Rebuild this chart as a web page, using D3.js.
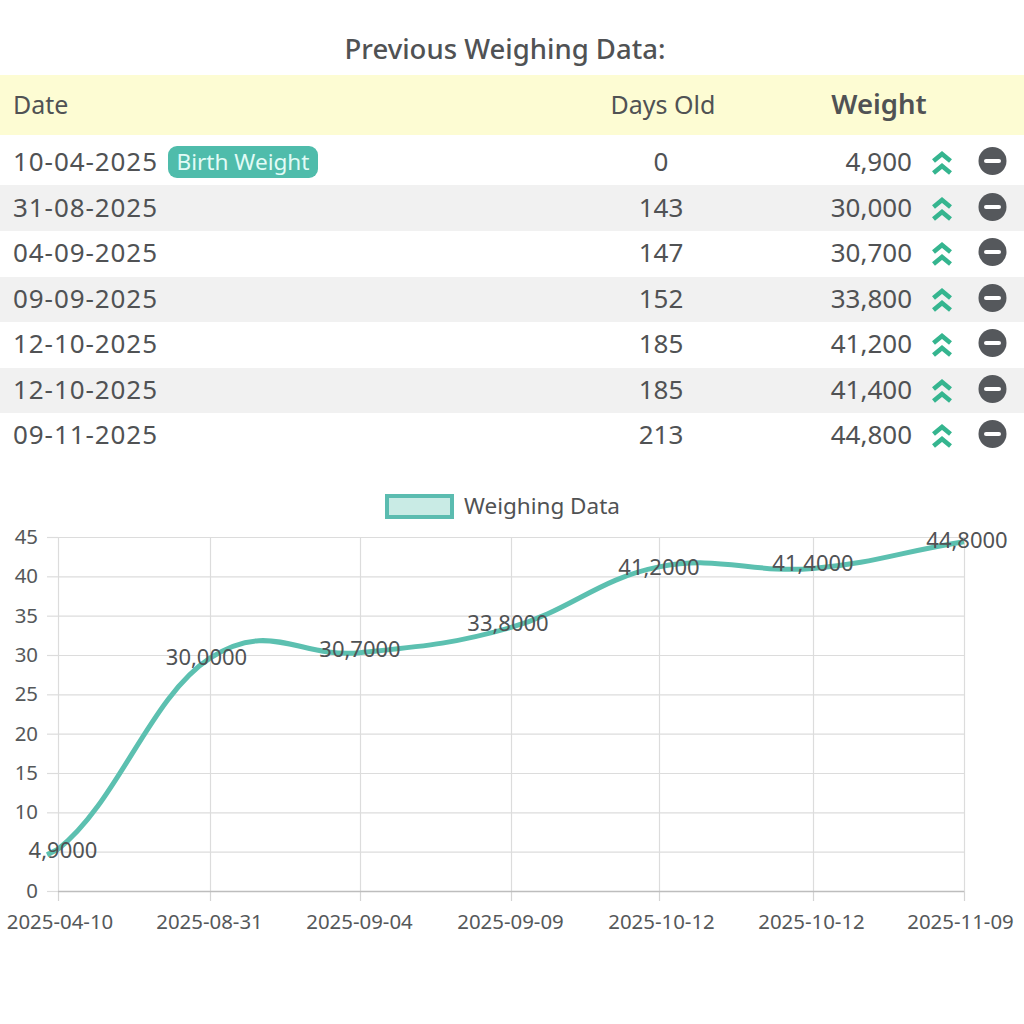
<!DOCTYPE html>
<html><head><meta charset="utf-8">
<script src="https://cdn.jsdelivr.net/npm/d3@7"></script>
<style>
html,body{margin:0;padding:0;background:#fff}
svg{display:block}
text{font-family:"Noto Sans","Open Sans",sans-serif;fill:#505254}
</style></head><body><svg id="c" width="1024" height="1024"></svg>
<script>
const tableDates=["10-04-2025","31-08-2025","04-09-2025","09-09-2025","12-10-2025","12-10-2025","09-11-2025"];
const daysOld=[0,143,147,152,185,185,213];
const weightLabels=["4,900","30,000","30,700","33,800","41,200","41,400","44,800"];
const chartDates=["2025-04-10","2025-08-31","2025-09-04","2025-09-09","2025-10-12","2025-10-12","2025-11-09"];
const chartValues=[5.3,29.6,30.3,33.5,41.2,41.0,44.4];
const leadValue=-1, trailValue=47, stubValue=4.6;
const pointLabels=["4,9000","30,0000","30,7000","33,8000","41,2000","41,4000","44,8000"];
const yTicks=[0,5,10,15,20,25,30,35,40,45];

const svg=d3.select("#c");
const teal="#5cc0b0";
const rowTops=[135,185,231,277,322,368,413,458];
svg.append("text").attr("x",505).attr("y",59).attr("text-anchor","middle")
  .attr("font-size",27.5).attr("font-weight",500).text("Previous Weighing Data:");
svg.append("rect").attr("x",0).attr("y",75).attr("width",1024).attr("height",60).attr("fill","#fdfcd3");
svg.append("text").attr("x",13).attr("y",114).attr("font-size",25).text("Date");
svg.append("text").attr("x",663).attr("y",114).attr("text-anchor","middle").attr("font-size",25).text("Days Old");
svg.append("text").attr("x",879).attr("y",114).attr("text-anchor","middle").attr("font-size",27.5).attr("font-weight",600).text("Weight");

const rows=svg.append("g").selectAll("g").data(tableDates).join("g");
rows.append("rect").attr("x",0).attr("width",1024)
  .attr("y",(d,i)=>rowTops[i]).attr("height",(d,i)=>rowTops[i+1]-rowTops[i])
  .attr("fill",(d,i)=>i%2?"#f1f1f1":"#fff");
const rowY=i=>[162,208,253,299,344,390,435][i];
rows.append("text").attr("x",13).attr("y",(d,i)=>rowY(i)+9).attr("font-size",26).attr("textLength",144).text(d=>d);
rows.append("text").attr("x",661).attr("y",(d,i)=>rowY(i)+9).attr("font-size",26).attr("text-anchor","middle").text((d,i)=>daysOld[i]);
rows.append("text").attr("x",912).attr("y",(d,i)=>rowY(i)+9).attr("font-size",26).attr("text-anchor","end").text((d,i)=>weightLabels[i]);
rows.append("path").attr("transform",(d,i)=>`translate(942,${rowY(i)+2})`)
  .attr("d","M-8.5,-3 L0,-10 L8.5,-3 M-8.5,9 L0,2 L8.5,9")
  .attr("fill","none").attr("stroke","#35b58f").attr("stroke-width",4.6);
const minus=rows.append("g").attr("transform",(d,i)=>`translate(992.5,${rowY(i)-1})`);
minus.append("circle").attr("r",14).attr("fill","#55585c");
minus.append("rect").attr("x",-8.5).attr("y",-2).attr("width",17).attr("height",4).attr("rx",2).attr("fill","#fff");

svg.append("rect").attr("x",168).attr("y",146).attr("width",150).attr("height",32).attr("rx",9).attr("fill","#4fbcab");
svg.append("text").attr("x",243).attr("y",170).attr("text-anchor","middle").attr("font-size",22.6).style("fill","#e2fbf6").text("Birth Weight");

// legend
svg.append("rect").attr("x",387).attr("y",496).attr("width",65).attr("height",21).attr("fill","#c9ebe5").attr("stroke","#5bbcb0").attr("stroke-width",4);
svg.append("text").attr("x",464).attr("y",514).attr("font-size",22.5).text("Weighing Data");

// chart
const x=d3.scaleLinear().domain(d3.range(chartDates.length)).range([58,210,360,511,659,813,964]);
const y=d3.scaleLinear().domain([0,45]).range([891,537]);
const gx=svg.append("g").attr("transform","translate(0,891)")
  .call(d3.axisBottom(x).tickValues(d3.range(chartDates.length)).tickSize(10).tickFormat(i=>chartDates[i]));
gx.select(".domain").remove();
gx.selectAll("line").attr("stroke","#d4d4d4").attr("stroke-width",1.2);
gx.selectAll(".tick").append("line").attr("y1",-354).attr("y2",0).attr("stroke","#dcdcdc").attr("stroke-width",1.2);
const tickDx=[1.5,-1,-1,-1,2,-2,-4];
gx.selectAll("text").attr("font-size",20.4).style("fill","#55585a").attr("dy","0.32em").attr("y",31).attr("dx",(d,i)=>tickDx[i]);
const gy=svg.append("g").attr("transform","translate(58,0)")
  .call(d3.axisLeft(y).tickValues(yTicks).tickSize(11).tickFormat(d=>d===5?"":d));
gy.select(".domain").remove();
gy.selectAll("line").attr("stroke","#dcdcdc").attr("stroke-width",1.2);
gy.selectAll(".tick").append("line").attr("x1",0).attr("x2",906).attr("stroke",d=>d===0?"#bdbdbd":"#dcdcdc").attr("stroke-width",d=>d===0?1.6:1.2);
gy.selectAll("text").attr("font-size",20.4).style("fill","#55585a").attr("x",-20);

const pts=[[-1,leadValue],...chartValues.map((v,i)=>[i,v]),[chartValues.length,trailValue]];
const line=d3.line().x(d=>x(d[0])).y(d=>y(d[1])).curve(d3.curveCardinalOpen.tension(-0.2));
svg.append("path").datum(pts).attr("d",line).attr("fill","none").attr("stroke",teal).attr("stroke-width",5);
svg.append("path").datum([[-0.072,stubValue],[0,chartValues[0]]])
  .attr("d",d3.line().x(d=>x(d[0])).y(d=>y(d[1]))).attr("fill","none").attr("stroke",teal).attr("stroke-width",5);

const labelOffsets=[[5,1],[-3.5,-1],[0,-4],[-3,-4],[0,0],[0,-5],[3,-2]];
svg.append("g").selectAll("text").data(pointLabels).join("text")
  .attr("x",(d,i)=>x(i)+labelOffsets[i][0]).attr("y",(d,i)=>y(chartValues[i])+labelOffsets[i][1])
  .attr("dy","0.36em").attr("text-anchor","middle").attr("font-size",22).text(d=>d);
</script></body></html>
